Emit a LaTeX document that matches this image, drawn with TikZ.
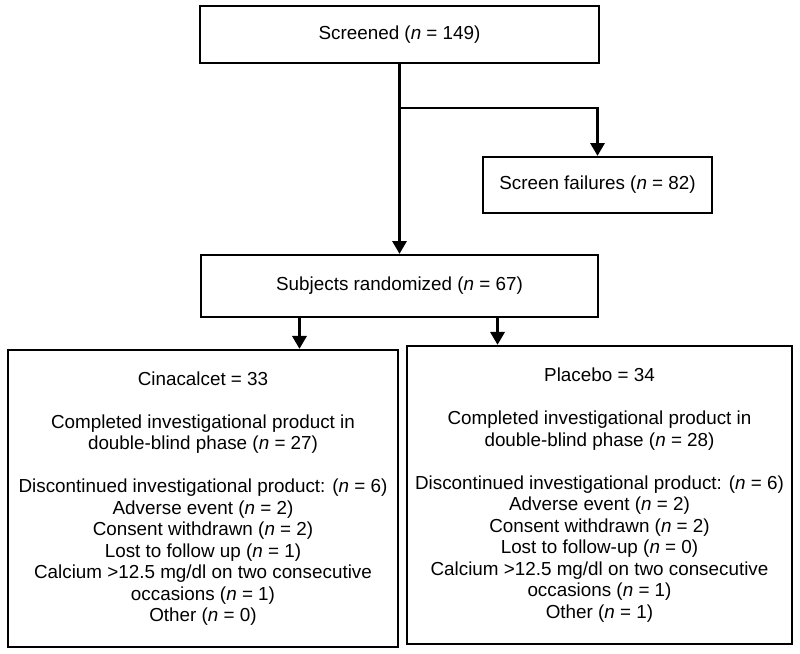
\documentclass[tikz,border=0pt]{standalone}
\usepackage{fontspec}
\setmainfont{Liberation Sans}
\usetikzlibrary{arrows.meta}

\tikzset{box/.style={draw, line width=1.7pt, align=center, inner sep=0pt},
        arr/.style={line width=1.5pt, -{Triangle[length=0.32cm,width=0.36cm]}}}

\begin{document}
\begin{tikzpicture}[x=0.025cm,y=-0.025cm,font=\fontsize{13.4}{15.3}\selectfont]
        \useasboundingbox (0,0) rectangle (800,653);
        \node[box, minimum width=9.975cm, minimum height=1.425cm] (screened) at (399.5,34.5) {Screened (\textit{n} = 149)};
        \node[box, minimum width=5.725cm, minimum height=1.4cm] (fail) at (597.5,185) {Screen failures (\textit{n} = 82)};
        \node[box, minimum width=9.925cm, minimum height=1.55cm] (rand) at (399.5,286) {Subjects randomized (\textit{n} = 67)};
        \node[box, minimum width=9.75cm, minimum height=7.425cm] (cina) at (203,498.5) {Cinacalcet = 33\\[15.3pt]
                Completed investigational product in\\
                double-blind phase (\textit{n} = 27)\\[15.3pt]
                Discontinued investigational product: (\textit{n} = 6)\\
                Adverse event (\textit{n} = 2)\\
                Consent withdrawn (\textit{n} = 2)\\
                Lost to follow up (\textit{n} = 1)\\
                Calcium >12.5 mg/dl on two consecutive\\
                occasions (\textit{n} = 1)\\
                Other (\textit{n} = 0)};
        \node[box, minimum width=9.625cm, minimum height=7.45cm] (plac) at (599.5,495) {Placebo = 34\\[15.3pt]
                Completed investigational product in\\
                double-blind phase (\textit{n} = 28)\\[15.3pt]
                Discontinued investigational product: (\textit{n} = 6)\\
                Adverse event (\textit{n} = 2)\\
                Consent withdrawn (\textit{n} = 2)\\
                Lost to follow-up (\textit{n} = 0)\\
                Calcium >12.5 mg/dl on two consecutive\\
                occasions (\textit{n} = 1)\\
                Other (\textit{n} = 1)};
        \coordinate (split) at (399.5,108);
        \coordinate (lfork) at ([xshift=-2.5cm]rand.south);
        \coordinate (rfork) at ([xshift=2.45cm]rand.south);
        \draw[arr] (screened.south) -- (rand.north);
        \draw[arr] (split) -| (fail.north);
        \draw[arr] (lfork) -- (lfork |- cina.north);
        \draw[arr] (rfork) -- (rfork |- plac.north);
\end{tikzpicture}
\end{document}
